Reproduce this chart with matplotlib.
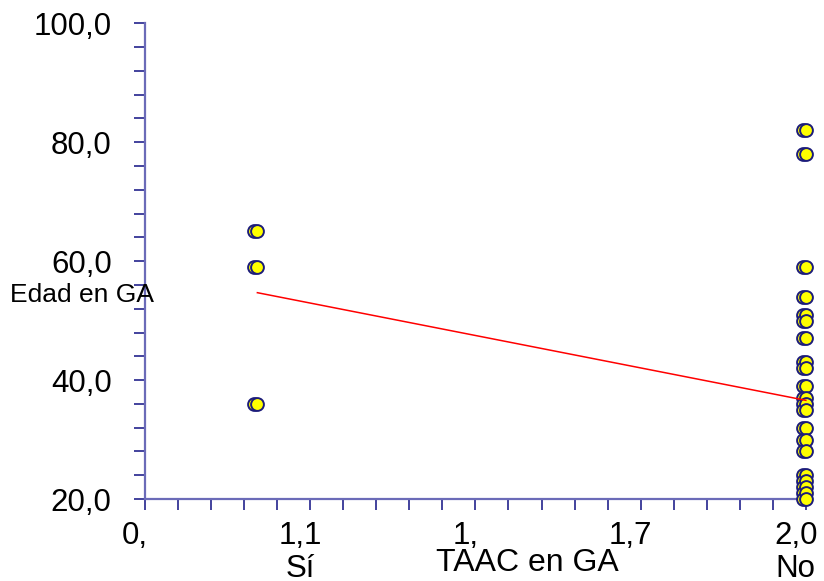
import matplotlib.pyplot as plt
import matplotlib.transforms as mtransforms
from matplotlib.ticker import MultipleLocator

plt.rcParams['font.family'] = ['Liberation Sans', 'DejaVu Sans']

# Edad en GA por grupo de TAAC
x_si = 0.34
x_no = 2.0
edad_si = [65, 59, 36]
edad_no = [82, 78, 59, 54, 51, 50, 47, 43, 42, 39, 37, 36, 35,
           32, 30, 28, 24, 23, 22, 21, 20]

# recta de ajuste (extremos)
fit_x = [0.34, 2.0]
fit_y = [54.7, 36.6]

x_ticks = [0.0, 0.5, 1.0, 1.5, 2.0]
x_ticklabels = ['0,', '1,1\nSí', '1,', '1,7', '2,0\nNo']
y_ticks = [20, 40, 60, 80, 100]
y_ticklabels = ['20,0', '40,0', '60,0', '80,0', '100,0']

spine_col = '#6b6bb8'
tick_col = '#23238c'
edge_col = '#1c1c7a'

fig = plt.figure(figsize=(8.24, 5.81), dpi=100)
ax = fig.add_axes([0.176, 0.141, 0.802, 0.819])

xs = [x_si] * len(edad_si) + [x_no] * len(edad_no)
ys = edad_si + edad_no

# sombra desplazada hacia la izquierda, luego el punto
shadow = ax.transData + mtransforms.ScaledTranslation(-3 / 100, 0, fig.dpi_scale_trans)
ax.scatter(xs, ys, s=85, c='#ffff00', edgecolors=edge_col, linewidths=1.4,
           transform=shadow, clip_on=False, zorder=3)
ax.scatter(xs, ys, s=85, c='#ffff00', edgecolors=edge_col, linewidths=1.4,
           clip_on=False, zorder=4)

ax.plot(fit_x, fit_y, color='#ff0000', lw=1.1, zorder=5, clip_on=False)

ax.set_xlim(0, 2.0)
ax.set_ylim(20, 100)

ax.spines['top'].set_visible(False)
ax.spines['right'].set_visible(False)
for side in ('left', 'bottom'):
    ax.spines[side].set_color(spine_col)
    ax.spines[side].set_linewidth(1.6)

ax.set_xticks(x_ticks)
ax.set_xticklabels(x_ticklabels, fontsize=22.5, linespacing=1.1)
ax.xaxis.set_minor_locator(MultipleLocator(0.1))
ax.set_yticks(y_ticks)
ax.set_yticklabels(y_ticklabels, fontsize=22.5)
ax.yaxis.set_minor_locator(MultipleLocator(4))

ax.tick_params(which='both', direction='out', length=8, width=1.2, color=tick_col)
ax.tick_params(axis='x', which='major', pad=8)
ax.tick_params(axis='y', which='major', pad=16)

# etiquetas del eje x algo corridas a la izquierda
shift = mtransforms.ScaledTranslation(-10 / 100, 0, fig.dpi_scale_trans)
for lbl in ax.get_xticklabels():
    lbl.set_transform(lbl.get_transform() + shift)

ax.set_xlabel('TAAC en GA', fontsize=23)
ax.xaxis.set_label_coords(0.579, -0.103)
ax.text(-0.204, 0.429, 'Edad en GA', transform=ax.transAxes, fontsize=19,
        ha='left', va='center')

fig.savefig('out.png', dpi=100)
